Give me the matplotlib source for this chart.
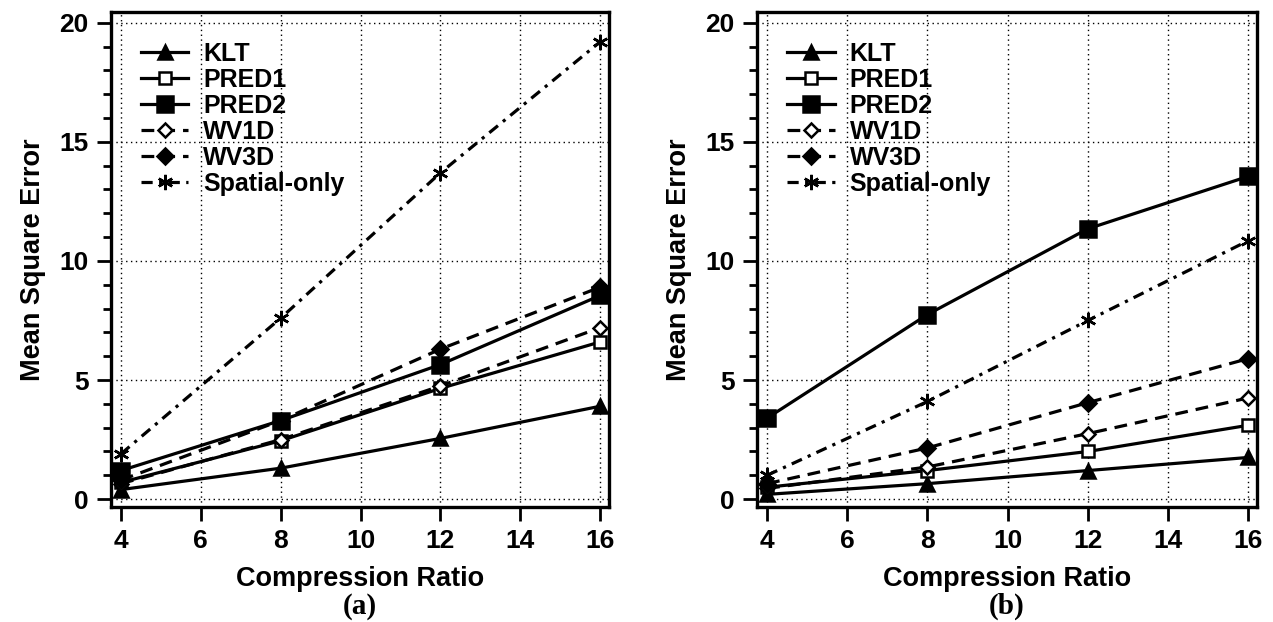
import matplotlib
matplotlib.use("Agg")
import matplotlib.pyplot as plt
from matplotlib.ticker import MultipleLocator

plt.rcParams['font.family'] = ['Liberation Sans', 'DejaVu Sans']
plt.rcParams['font.weight'] = 'bold'

ratios = [4, 8, 12, 16]
series_names = ["KLT", "PRED1", "PRED2", "WV1D", "WV3D", "Spatial-only"]

# Panel (a)
a_klt = [0.4, 1.3, 2.55, 3.9]
a_pred1 = [0.7, 2.45, 4.65, 6.6]
a_pred2 = [1.2, 3.3, 5.65, 8.55]
a_wv1d = [0.65, 2.5, 4.75, 7.2]
a_wv3d = [0.8, 3.3, 6.3, 8.9]
a_spatial = [1.9, 7.6, 13.7, 19.2]

# Panel (b)
b_klt = [0.2, 0.65, 1.2, 1.75]
b_pred1 = [0.5, 1.2, 2.0, 3.1]
b_pred2 = [3.4, 7.75, 11.35, 13.55]
b_wv1d = [0.45, 1.35, 2.75, 4.25]
b_wv3d = [0.65, 2.15, 4.05, 5.9]
b_spatial = [1.0, 4.1, 7.5, 10.85]

panel_labels = ["(a)", "(b)"]
xlabel = "Compression Ratio"
ylabel = "Mean Square Error"

styles = [
    dict(ls='-', marker='^', mfc='black', ms=10),
    dict(ls='-', marker='s', mfc='white', ms=9),
    dict(ls='-', marker='s', mfc='black', ms=11),
    dict(ls=(0, (4, 2.5)), marker='D', mfc='white', ms=7),
    dict(ls=(0, (4, 2.5)), marker='D', mfc='black', ms=8),
    dict(ls=(0, (3.5, 2, 1, 2)), marker=(6, 2, 0), mfc='black', ms=11),
]

fig = plt.figure(figsize=(12.73, 6.22), dpi=100)
axa = fig.add_axes([0.0872, 0.1849, 0.3912, 0.7958])
axb = fig.add_axes([0.5947, 0.1849, 0.3928, 0.7958])

data = [
    [a_klt, a_pred1, a_pred2, a_wv1d, a_wv3d, a_spatial],
    [b_klt, b_pred1, b_pred2, b_wv1d, b_wv3d, b_spatial],
]

for ax, series, plab in zip([axa, axb], data, panel_labels):
    for name, vals, st in zip(series_names, series, styles):
        ax.plot(ratios, vals, color='black', lw=2.3, ls=st['ls'],
                marker=st['marker'], mfc=st['mfc'], mec='black', mew=1.8,
                ms=st['ms'], label=name, clip_on=False, zorder=3)
    ax.set_xlim(3.75, 16.22)
    ax.set_ylim(-0.33, 20.45)
    ax.xaxis.set_major_locator(MultipleLocator(2))
    ax.yaxis.set_major_locator(MultipleLocator(5))
    ax.yaxis.set_minor_locator(MultipleLocator(1))
    ax.grid(True, which='major', color='black', ls=(0, (1, 2.5)), lw=1.0)
    ax.tick_params(axis='both', which='major', direction='out', length=10,
                   width=2, labelsize=19, pad=6, colors='black')
    ax.tick_params(axis='y', which='minor', direction='out', length=6, width=2)
    for sp in ax.spines.values():
        sp.set_linewidth(2.4)
    for lab in ax.get_xticklabels() + ax.get_yticklabels():
        lab.set_fontweight('bold')
    ax.set_ylabel(ylabel, fontsize=19.5, fontweight='bold', labelpad=10)
    ax.set_xlabel(xlabel, fontsize=19.5, fontweight='bold', labelpad=9)
    leg = ax.legend(loc='upper left', bbox_to_anchor=(0.04, 0.96), frameon=False,
                    fontsize=18, handlelength=1.9, handletextpad=0.6,
                    labelspacing=0.08, borderaxespad=0)
    for t in leg.get_texts():
        t.set_fontweight('bold')
    bb = ax.get_position()
    fig.text((bb.x0 + bb.x1) / 2, 0.003, plab, ha='center', va='bottom',
             fontsize=21, fontweight='bold', family=['Liberation Serif', 'DejaVu Serif'])

fig.savefig("out.png", dpi=100)
